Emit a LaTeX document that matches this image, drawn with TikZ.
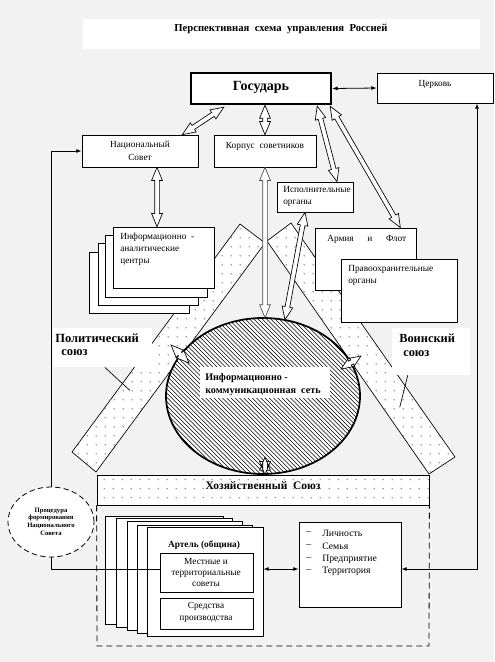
\documentclass[tikz,border=0pt]{standalone}
\usepackage{fontspec}
\setmainfont{Liberation Serif}
\usetikzlibrary{shapes.arrows,shapes.geometric,patterns.meta,calc,fit,arrows.meta}
\definecolor{bggray}{RGB}{242,242,242}
\newcommand\holarrow[3][]{\path let \p1=#2, \p2=#3, \n1={atan2(\y2-\y1,\x2-\x1)}, \n2={veclen(\x2-\x1,\y2-\y1)} in node[hol,minimum height=\n2,rotate=\n1,#1] at ($(\p1)!0.5!(\p2)$) {};}
\begin{document}
\begin{tikzpicture}[x=0.75pt,y=-0.75pt,
  box/.style={draw, fill=white, line width=0.6pt, inner sep=0pt},
  txt/.style={inner sep=0pt, font=\fontsize{7}{9}\selectfont},
  hol/.style={double arrow, draw, fill=white, line width=0.5pt, inner xsep=0pt, inner ysep=1.5pt,
    double arrow head extend=2.3pt, double arrow tip angle=45, minimum width=0pt},
  thinarr/.style={line width=0.6pt, {Latex[length=4pt,width=3pt]}-{Latex[length=4pt,width=3pt]}},
  band/.style={draw, line width=0.5pt, preaction={fill=white}, pattern={Dots[distance=6.5pt,radius=0.4pt]}},
  lbl/.style={fill=white, inner sep=0pt},
]
\useasboundingbox (0,0) rectangle (494,662);
\fill[bggray] (0,0) rectangle (494,662);
% title
\node[lbl, fit={(83,19)(480,49)}] (title) {};
\node[inner sep=0pt, font=\fontsize{8}{10}\selectfont\bfseries] at (281,29) {Перспективная\ \ схема\ \ управления\ \ Россией};

% bands
\filldraw[band] (240,224) -- (265,243) -- (96,472) -- (72,452) -- cycle;
\filldraw[band] (291,223) -- (267,241) -- (429,474) -- (455,457) -- cycle;

% network ellipse
\node[ellipse, fill=white, inner sep=0pt, minimum width=145.5pt, minimum height=117pt] (net) at (263,396) {};
\begin{scope}
  \clip (263,396) ellipse [x radius=97, y radius=78];
  \foreach \k in {-60,...,60} \draw[line width=0.4pt] ({263+\k*4.24-100},296) -- ({263+\k*4.24+100},496);
\end{scope}
\draw[line width=1.3pt] (263,396) ellipse [x radius=97, y radius=78];
\node[lbl, fit={(200,367)(330,398)}] (netlbl) {};
\node[inner sep=0pt, anchor=west, align=left, font=\fontsize{7.6}{9.75}\selectfont\bfseries] at (205,384.5) {Информационно -\\коммуникационная\ \ сеть};

% union labels
\node[lbl, fit={(53,328)(152,367)}] (pol) {};
\node[inner sep=0pt, anchor=west, font=\fontsize{9.4}{11}\selectfont\bfseries] at (55,338) {Политический};
\node[inner sep=0pt, anchor=west, font=\fontsize{9.4}{11}\selectfont\bfseries] at (61,353) {союз};
\draw[line width=0.5pt] ($(pol.south west)+(52,0)$) -- ($(pol.south west)+(77,23)$);
\node[lbl, fit={(392,328)(470,375)}] (voin) {};
\node[inner sep=0pt, anchor=west, font=\fontsize{9.3}{11}\selectfont\bfseries] at (399,338) {Воинский};
\node[inner sep=0pt, anchor=west, font=\fontsize{9.3}{11}\selectfont\bfseries] at (403,354) {союз};
\draw[line width=0.5pt] ($(voin.south west)+(16,0)$) -- ($(voin.south west)+(8,32)$);

% top boxes
\node[box, line width=1.8pt, fit={(191,73)(331,104)}] (gos) {};
\node[inner sep=0pt, font=\fontsize{10.5}{12}\selectfont\bfseries] at (261,87) {Государь};
\node[box, fit={(377,73)(493,103)}] (church) {};
\node[txt] at (435,84) {Церковь};
\node[box, fit={(82,135)(198,167)}] (nat) {};
\node[txt, align=center, font=\fontsize{7}{9.75}\selectfont] at (140,150.5) {Национальный\\Совет};
\node[box, fit={(214,135)(316,167)}] (korp) {};
\node[txt] at (265,146) {Корпус\ \ советников};
\node[box, fit={(277,182)(353,212)}] (isp) {};
\node[txt, anchor=west, align=left] at (283,196) {Исполнительные\\органы};

% info centres stack
\filldraw[box] (89,252) rectangle (189,313);
\filldraw[box] (98,243) rectangle (198,305);
\filldraw[box] (105,235) rectangle (207,297);
\node[box, fit={(113,227)(214,288)}] (inf) {};
\node[txt, anchor=west, align=left] at (120,249) {Информационно\ \ -\\аналитические\\центры};

% army
\node[box, fit={(315,228)(416,290)}] (army) {};
\node[txt, anchor=west] at (327,239) {\makebox[59.25pt][s]{Армия и Флот}};
\node[box, fit={(341,259)(457,322)}] (pravo) {};
\node[txt, anchor=west, align=left] at (348,275) {Правоохранительные\\органы};

% hollow arrows
\holarrow{($(gos.south west)+(34,2)$)}{($(nat.north east)+(-16,0)$)}
\holarrow{(korp.north |- gos.south)}{(korp.north)}
\holarrow{($(gos.south east)+(-15,1)$)}{($(isp.north)+(22,0)$)}
\holarrow{($(gos.south east)+(-2,1)$)}{($(army.north east)+(-16,0)$)}
\coordinate (a5) at ($(nat.south)+(17,0)$);
\holarrow{(a5)}{(a5 |- inf.north)}
\holarrow[draw=black!70]{(korp.south)}{(korp.south |- net.north)}
\holarrow{($(isp.south)+(-10,0)$)}{($(net.north)+(22,2)$)}
\holarrow{($(net.center)+(-92,-51)$)}{($(net.center)+(-74,-33)$)}
\holarrow{($(net.center)+(98,-40)$)}{($(net.center)+(78,-27)$)}

% economic union
\node[draw, line width=0.6pt, inner sep=0pt, fit={(97,475)(429,505)}, preaction={fill=white}, pattern={Dots[distance=6.5pt,radius=0.4pt]}] (xoz) {};
\node[inner sep=0pt, font=\fontsize{8.6}{10}\selectfont\bfseries] at (263,486) {Хозяйственный\ \ Союз};
\holarrow{($(net.south)+(2,-17)$)}{($(xoz.north)+(2,0)$)}
\draw[line width=0.6pt, dash pattern=on 4.5pt off 3pt] (xoz.south west) -- (97,646) -- (429,646) -- (xoz.south east);

% artel stack
\filldraw[box] (105,516) rectangle (223,624);
\filldraw[box] (116,518) rectangle (232,627);
\filldraw[box] (127,521) rectangle (242,630);
\filldraw[box] (137,525) rectangle (252,633);
\node[box, fit={(147,527)(263,636)}] (artel) {};
\node[inner sep=0pt, font=\fontsize{7}{9}\selectfont\bfseries] at (204,545) {Артель (община)};
\node[box, fit={(160,553)(253,592)}] (mest) {};
\node[txt, align=center, font=\fontsize{7}{8}\selectfont] at (206,572.5) {Местные и\\территориальные\\советы};
\node[box, fit={(160,598)(253,629)}] (sred) {};
\node[txt, align=center] at (206,612) {Средства\\производства};

% personal box
\node[box, fit={(299,522)(401,607)}] (lich) {};
\foreach \yy/\tt in {533/Личность, 546/Семья, 559/Предприятие, 571/Территория}{
  \node[txt, anchor=west, font=\fontsize{7.3}{9}\selectfont] at (306,\yy) {–};
  \node[txt, anchor=west, font=\fontsize{7.3}{9}\selectfont] at (322,\yy) {\tt};
}

% procedure ellipse
\node[ellipse, draw, line width=0.6pt, dash pattern=on 4pt off 2.5pt, fill=white, inner sep=0pt,
  minimum width=64.5pt, minimum height=52.5pt] (proc) at (51,522) {};
\node[inner sep=0pt, align=center, font=\fontsize{5}{5.8}\selectfont\bfseries] at (51,521.5) {Процедура\\формирования\\Национального\\Совета};

% thin connectors
\coordinate (rowy) at (0,569);
\coordinate (rcol) at (477,0);
\draw[thinarr] (gos.east) -- (church.west);
\draw[line width=0.6pt, -{Latex[length=4pt,width=3pt]}] (proc.north) |- (nat.west);
\draw[line width=0.6pt] (proc.south) |- (mest.west |- rowy);
\draw[thinarr] (artel.east |- rowy) -- (lich.west |- rowy);
\draw[thinarr] (lich.east |- rowy) -| (rcol |- church.south);
\end{tikzpicture}
\end{document}
